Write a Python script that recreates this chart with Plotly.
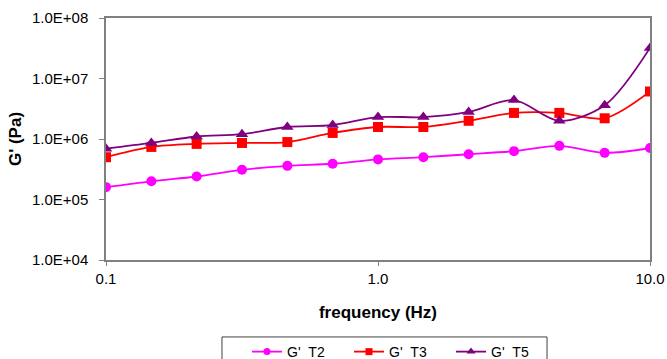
import plotly.graph_objects as go

# Oscillation frequency sweep (Hz), six points per decade
frequency = [0.1, 0.1468, 0.2154, 0.3162, 0.4642, 0.6813, 1.0,
             1.468, 2.154, 3.162, 4.642, 6.813, 10.0]

# Storage modulus G' (Pa) for each sample
g_t2 = [1.6e5, 2.0e5, 2.4e5, 3.1e5, 3.6e5, 3.9e5, 4.6e5,
        5.0e5, 5.6e5, 6.3e5, 7.7e5, 5.9e5, 7.1e5]
g_t3 = [5.0e5, 7.4e5, 8.3e5, 8.6e5, 8.9e5, 1.26e6, 1.58e6,
        1.58e6, 2.0e6, 2.7e6, 2.7e6, 2.2e6, 6.1e6]
g_t5 = [6.9e5, 8.6e5, 1.1e6, 1.2e6, 1.58e6, 1.7e6, 2.3e6,
        2.3e6, 2.8e6, 4.4e6, 2.0e6, 3.6e6, 3.2e7]

series_names = ["G'_T2", "G'_T3", "G'_T5"]

x_tickvals = [0.1, 1.0, 10.0]
x_ticktext = ["0.1", "1.0", "10.0"]
y_tickvals = [1e4, 1e5, 1e6, 1e7, 1e8]
y_ticktext = ["1.0E+04", "1.0E+05", "1.0E+06", "1.0E+07", "1.0E+08"]

styles = [
    dict(color="#FF00FF", symbol="circle", size=10, key_size=7),
    dict(color="#FF0000", symbol="square", size=10, key_size=7),
    dict(color="#800080", symbol="triangle-up", size=11, key_size=8),
]

fig = go.Figure()
for name, values, st in zip(series_names, [g_t2, g_t3, g_t5], styles):
    fig.add_trace(go.Scatter(
        x=frequency, y=values, name=name, mode="lines+markers",
        showlegend=False,
        line=dict(color=st["color"], width=1.8, shape="spline", smoothing=0.9),
        marker=dict(color=st["color"], symbol=st["symbol"], size=st["size"]),
    ))
# Legend keys use smaller markers than the plotted points
for name, st in zip(series_names, styles):
    fig.add_trace(go.Scatter(
        x=[None], y=[None], name=name, mode="lines+markers",
        line=dict(color=st["color"], width=1.8),
        marker=dict(color=st["color"], symbol=st["symbol"], size=st["key_size"]),
    ))

font = "Liberation Sans, Arial, sans-serif"
axis_color = "#808080"

fig.update_layout(
    width=667, height=359,
    margin=dict(l=106, r=17, t=18, b=99, autoexpand=False),
    paper_bgcolor="white", plot_bgcolor="white",
    font=dict(family=font, size=15, color="black"),
    showlegend=True,
    legend=dict(
        orientation="h", xref="paper", yref="container",
        x=0.2592, xanchor="left", y=0.064, yanchor="top",
        borderwidth=0, bgcolor="rgba(0,0,0,0)",
        entrywidth=57, entrywidthmode="pixels",
        font=dict(size=14), itemwidth=30,
    ),
    shapes=[dict(
        type="rect", xref="paper", yref="paper",
        x0=0.2132, x1=0.8107, y0=-0.45, y1=-0.318,
        line=dict(color="#404040", width=1), fillcolor="rgba(0,0,0,0)",
    )],
)

fig.update_xaxes(
    type="log", range=[-1, 1],
    tickvals=x_tickvals, ticktext=x_ticktext,
    ticks="outside", ticklen=4, tickcolor=axis_color,
    showline=True, linecolor=axis_color, linewidth=1.5, mirror=True,
    showgrid=False, zeroline=False,
    title=dict(text="<b>frequency (Hz)</b>", font=dict(size=17), standoff=20),
)
fig.update_yaxes(
    type="log", range=[4, 8],
    tickvals=y_tickvals, ticktext=y_ticktext,
    ticks="outside", ticklen=5, tickcolor=axis_color,
    ticklabelstandoff=8,
    showline=True, linecolor=axis_color, linewidth=1.5, mirror=True,
    showgrid=False, zeroline=False,
    title=dict(text="<b>G' (Pa)</b>", font=dict(size=17), standoff=6),
)

fig.write_html("out.html")
